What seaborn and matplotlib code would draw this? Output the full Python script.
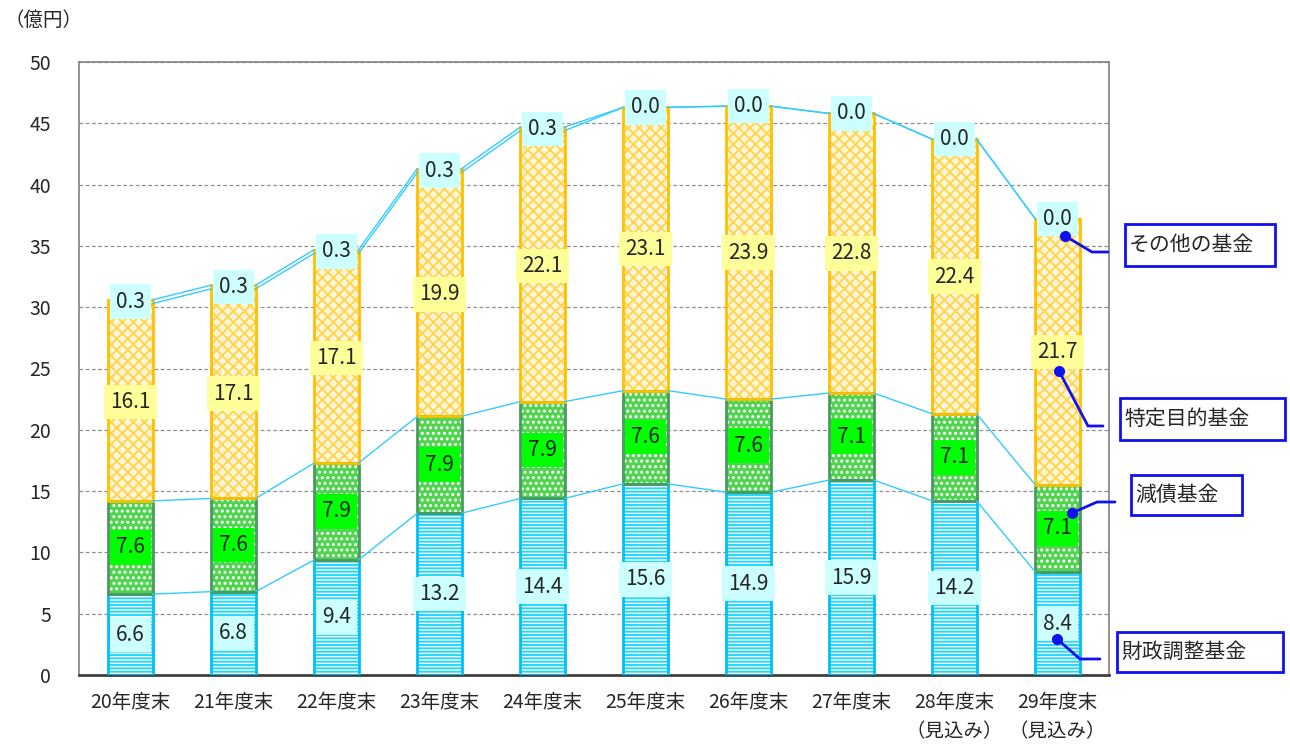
import matplotlib.pyplot as plt
import matplotlib.patches as mpatches
import matplotlib.lines as mlines
import numpy as np
import pandas as pd
import seaborn as sns

years = ["20年度末", "21年度末", "22年度末", "23年度末", "24年度末",
         "25年度末", "26年度末", "27年度末", "28年度末\n（見込み）", "29年度末\n（見込み）"]
zaisei = [6.6, 6.8, 9.4, 13.2, 14.4, 15.6, 14.9, 15.9, 14.2, 8.4]
gensai = [7.6, 7.6, 7.9, 7.9, 7.9, 7.6, 7.6, 7.1, 7.1, 7.1]
tokutei = [16.1, 17.1, 17.1, 19.9, 22.1, 23.1, 23.9, 22.8, 22.4, 21.7]
sonota = [0.3, 0.3, 0.3, 0.3, 0.3, 0.0, 0.0, 0.0, 0.0, 0.0]

series = [
    # name, values, face, hatch, hatch colour, edge, label box colour
    ("財政調整基金", zaisei, "white", "-----", "#22D8FF", "#00C0F8", "#CCFFFF"),
    ("減債基金", gensai, "#50D450", "...", "white", "#4A9A60", "#00FF00"),
    ("特定目的基金", tokutei, "#FFF6DA", "xxx", "#FFD54F", "#FFC000", "#FFFF99"),
    ("その他の基金", sonota, "white", "", "white", "#FFC000", "#CCFFFF"),
]

sns.set_style("white")
plt.rcParams["font.family"] = ["Noto Sans CJK JP", "DejaVu Sans"]
plt.rcParams["hatch.linewidth"] = 1.4

W, H = 1290, 744
fig = plt.figure(figsize=(W / 100, H / 100), dpi=100)
ax = fig.add_axes([79 / W, 1 - 675 / H, 1030 / W, 613 / H])

df = pd.DataFrame({"year": years})
bottom = np.zeros(len(years))
tops = []
bar_w = 0.43
for name, vals, face, hatch, hcol, edge, boxcol in series:
    df["v"] = vals
    sns.barplot(data=df, x="year", y="v", bottom=bottom, width=bar_w, ax=ax,
                color=face, saturation=1, hatch=hatch, edgecolor=hcol,
                linewidth=0, zorder=2)
    sns.barplot(data=df, x="year", y="v", bottom=bottom, width=bar_w, ax=ax,
                color=edge, saturation=1, fill=False, edgecolor=edge,
                linewidth=2, zorder=3)
    mid = bottom + np.array(vals) / 2
    for i, v in enumerate(vals):
        ax.text(i, mid[i], f"{v:.1f}", ha="center", va="center", fontsize=15,
                zorder=6, bbox=dict(boxstyle="square,pad=0.3", fc=boxcol, ec="none"))
    bottom = bottom + np.array(vals)
    tops.append(bottom.copy())

# connector lines between bars
for t in tops:
    for i in range(len(years) - 1):
        ax.plot([i + bar_w / 2, i + 1 - bar_w / 2], [t[i], t[i + 1]],
                color="#33CCFF", lw=1, zorder=4)

ax.set_xlim(-0.5, len(years) - 0.5)
ax.set_ylim(0, 50)
ax.set_yticks(np.arange(0, 51, 5))
ax.yaxis.grid(True, color="#909090", linestyle=(0, (3, 2)), lw=0.9)
ax.set_axisbelow(True)
ax.set_xlabel("")
ax.set_ylabel("")
ax.tick_params(axis="y", length=0, pad=20, labelsize=14)
ax.tick_params(axis="x", which="major", length=0, pad=12, labelsize=14)
ax.set_xticks(np.arange(len(years)) + 0.5, minor=True)
ax.tick_params(axis="x", which="minor", length=6, direction="out", color="#404040", width=1)
for lab in ax.get_xticklabels():
    lab.set_linespacing(1.5)
for s in ["left", "top", "right"]:
    ax.spines[s].set_visible(True)
    ax.spines[s].set_color("#808080")
    ax.spines[s].set_linewidth(1.2)
ax.spines["bottom"].set_color("#404040")
ax.spines["bottom"].set_linewidth(2)

fig.text(5 / W, 1 - 20 / H, "（億円）", fontsize=14, va="center", ha="left")

# callouts
callouts = [
    ("その他の基金", (1065, 236), (1092, 252), (1108, 252), (1125, 224, 1275, 266)),
    ("特定目的基金", (1059, 371), (1088, 426), (1103, 426), (1120, 398, 1285, 440)),
    ("減債基金", (1072, 513), (1097, 502), (1115, 502), (1131, 475, 1242, 515)),
    ("財政調整基金", (1057, 639), (1080, 659), (1100, 659), (1117, 632, 1283, 672)),
]
blue = "#1010F0"
for text, dot, elbow, end, box in callouts:
    xs = [dot[0] / W, elbow[0] / W, end[0] / W]
    ys = [1 - dot[1] / H, 1 - elbow[1] / H, 1 - end[1] / H]
    fig.add_artist(mlines.Line2D(xs, ys, color=blue, lw=2, transform=fig.transFigure, zorder=10))
    fig.add_artist(mlines.Line2D([xs[0]], [ys[0]], marker="o", ms=7, color=blue,
                                 transform=fig.transFigure, zorder=11))
    x0, y0, x1, y1 = box
    fig.add_artist(mpatches.Rectangle((x0 / W, 1 - y1 / H), (x1 - x0) / W, (y1 - y0) / H,
                                      fill=False, ec=blue, lw=2, transform=fig.transFigure))
    fig.text((x0 + 4) / W, 1 - (y0 + y1) / 2 / H, text, fontsize=15, ha="left", va="center")

fig.savefig("out.png", dpi=100)
